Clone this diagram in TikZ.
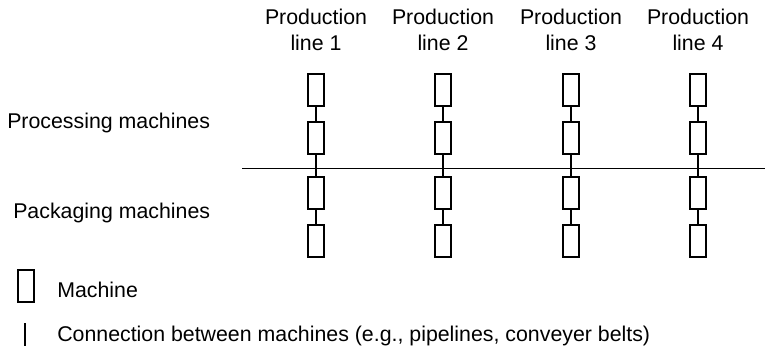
\documentclass[tikz,border=0pt]{standalone}
\usepackage{fontspec}
\setmainfont{Liberation Sans}
\begin{document}
\begin{tikzpicture}[x=0.75pt, y=-0.75pt,
        machine/.style={rectangle, draw=black, line width=0.8pt, minimum width=12pt, minimum height=24pt, inner sep=0pt},
        heading/.style={align=center, inner sep=0pt, font=\fontsize{16}{19.5}\selectfont},
        label/.style={anchor=west, inner sep=0pt, font=\fontsize{16}{19.5}\selectfont},
        link/.style={draw=black, line width=0.8pt}
    ]
        \useasboundingbox (0,0) rectangle (765,353);

        % Production line headings
        \node[heading] (head1) at (316,30) {Production\\line 1};
        \node[heading] (head2) at (443,30) {Production\\line 2};
        \node[heading] (head3) at (571,30) {Production\\line 3};
        \node[heading] (head4) at (698,30) {Production\\line 4};

        % Row labels
        \node[label] (proc) at (7,123) {Processing machines};
        \node[label] (pack) at (13,213) {Packaging machines};

        % Border between processing and packaging
        \coordinate (sepL) at (242,168.5);
        \coordinate (sepR) at (765,168.5);
        \draw[link] (sepL) -- (sepR);

        % Production line 1
        \node[machine] (m11) at (316,90) {};
        \node[machine] (m12) at (316,138) {};
        \node[machine] (m13) at (316,193) {};
        \node[machine] (m14) at (316,241) {};

        % Production line 2
        \node[machine] (m21) at (443,90) {};
        \node[machine] (m22) at (443,138) {};
        \node[machine] (m23) at (443,193) {};
        \node[machine] (m24) at (443,241) {};

        % Production line 3
        \node[machine] (m31) at (571,90) {};
        \node[machine] (m32) at (571,138) {};
        \node[machine] (m33) at (571,193) {};
        \node[machine] (m34) at (571,241) {};

        % Production line 4
        \node[machine] (m41) at (698,90) {};
        \node[machine] (m42) at (698,138) {};
        \node[machine] (m43) at (698,193) {};
        \node[machine] (m44) at (698,241) {};

        % Connections
        \draw[link] (m11) -- (m12);
        \draw[link] (m12) -- (m13);
        \draw[link] (m13) -- (m14);
        \draw[link] (m21) -- (m22);
        \draw[link] (m22) -- (m23);
        \draw[link] (m23) -- (m24);
        \draw[link] (m31) -- (m32);
        \draw[link] (m32) -- (m33);
        \draw[link] (m33) -- (m34);
        \draw[link] (m41) -- (m42);
        \draw[link] (m42) -- (m43);
        \draw[link] (m43) -- (m44);

        % Legend
        \node[machine] (legm) at (26,286) {};
        \node[label] (legmtext) at (57,290) {Machine};
        \coordinate (legA) at (25,323);
        \coordinate (legB) at (25,346);
        \draw[link] (legA) -- (legB);
        \node[label] (legctext) at (57,336) {Connection between machines (e.g., pipelines, conveyer belts)};

    \end{tikzpicture}
\end{document}
